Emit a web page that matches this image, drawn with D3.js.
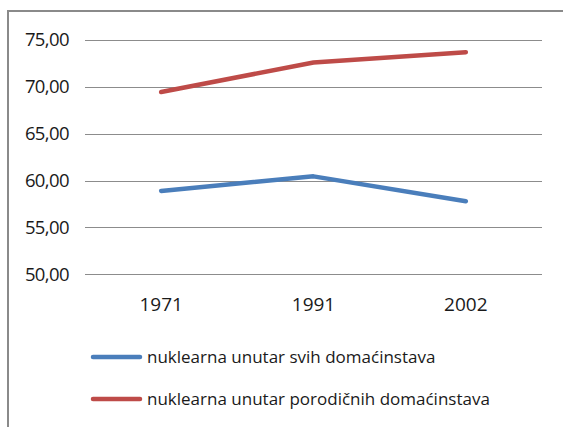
<!DOCTYPE html>
<html><head><meta charset="utf-8">
<script src="https://cdn.jsdelivr.net/npm/d3@7"></script>
<style>body{margin:0;background:#fff}svg{display:block}</style>
</head><body>
<script>
const categories = ["1971", "1991", "2002"];
const seriesNames = ["nuklearna unutar svih domaćinstava", "nuklearna unutar porodičnih domaćinstava"];
const seriesAll = [58.9, 60.45, 57.8];
const seriesFamily = [69.45, 72.6, 73.7];
const yTicks = [50, 55, 60, 65, 70, 75];
const colors = ["#4a7ebb", "#be4b48"];

const W = 563, H = 427;
const svg = d3.select("body").append("svg").attr("width", W).attr("height", H);
const font = "'Open Sans', sans-serif";

svg.append("rect").attr("x", 8).attr("y", 11).attr("width", W).attr("height", H)
  .attr("fill", "#fff").attr("stroke", "#8a8a8a").attr("stroke-width", 2);

const x = d3.scaleBand().domain(categories).range([85, 542]);
const y = d3.scaleLinear().domain([50, 75]).range([274.3, 40]);

const grid = svg.append("g");
grid.selectAll("line").data(yTicks).join("line")
  .attr("x1", 85).attr("x2", 542)
  .attr("y1", d => Math.round(y(d)) + 0.5).attr("y2", d => Math.round(y(d)) + 0.5)
  .attr("stroke", "#8c8c8c").attr("stroke-width", 1);

const fmt = d => d.toFixed(2).replace(".", ",");
const yAxis = d3.axisLeft(y).tickValues(yTicks).tickFormat(fmt).tickSize(0).tickPadding(16);
const ga = svg.append("g").attr("transform", "translate(85,0)").call(yAxis);
ga.select(".domain").remove();
ga.selectAll("text").attr("font-family", font).attr("font-size", 18.5).attr("fill", "#1a1a1a")
  .attr("letter-spacing", -0.6);

const xAxis = d3.axisBottom(x).tickSize(0).tickPadding(24);
const gx = svg.append("g").attr("transform", "translate(0,274)").call(xAxis);
gx.select(".domain").remove();
gx.selectAll("text").attr("font-family", font).attr("font-size", 19).attr("fill", "#1a1a1a");

const line = d3.line().x((d, i) => x(categories[i]) + x.bandwidth() / 2).y(d => y(d));
[seriesAll, seriesFamily].forEach((s, i) => {
  svg.append("path").datum(s).attr("d", line).attr("fill", "none")
    .attr("stroke", colors[i]).attr("stroke-width", 4.5).attr("stroke-linecap", "round").attr("stroke-linejoin", "round");
});

const legY = [357, 399];
seriesNames.forEach((n, i) => {
  svg.append("line").attr("x1", 93).attr("x2", 140).attr("y1", legY[i]).attr("y2", legY[i])
    .attr("stroke", colors[i]).attr("stroke-width", 4.5).attr("stroke-linecap", "round");
  svg.append("text").attr("x", 147).attr("y", legY[i]).attr("dy", "0.35em")
    .attr("font-family", font).attr("font-size", 17).attr("fill", "#1a1a1a").text(n);
});
</script>
</body></html>
